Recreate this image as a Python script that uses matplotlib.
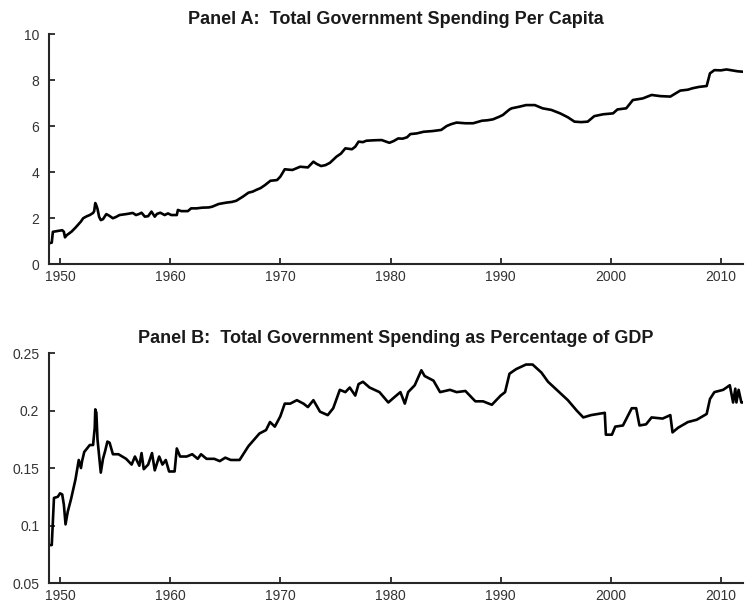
import matplotlib
matplotlib.use("Agg")
import matplotlib.pyplot as plt
from matplotlib.ticker import FuncFormatter

plt.rcParams['font.family'] = ['Liberation Sans', 'DejaVu Sans']

# Panel A: spending per capita
years_a = [1949.0, 1949.25, 1949.35, 1949.6, 1950.0, 1950.2, 1950.35, 1950.45, 1950.6, 1951.05,
           1951.4, 1951.7, 1951.9, 1952.1, 1952.4, 1952.7, 1953.0, 1953.1, 1953.2, 1953.3,
           1953.4, 1953.55, 1953.7, 1953.9, 1954.2, 1954.4, 1954.8, 1955.1, 1955.4, 1956.0,
           1956.6, 1956.9, 1957.2, 1957.4, 1957.7, 1958.0, 1958.3, 1958.6, 1958.8, 1959.1,
           1959.5, 1959.8, 1960.1, 1960.6, 1960.7, 1961.0, 1961.6, 1961.9, 1962.4, 1962.9,
           1963.5, 1963.8, 1964.4, 1965.1, 1965.6, 1966.0, 1966.6, 1967.1, 1967.5, 1967.8,
           1968.2, 1968.6, 1969.1, 1969.7, 1970.0, 1970.4, 1970.8, 1971.1, 1971.8, 1972.5,
           1973.0, 1973.3, 1973.7, 1974.1, 1974.5, 1975.1, 1975.5, 1975.9, 1976.5, 1976.8,
           1977.1, 1977.5, 1977.8, 1978.5, 1979.2, 1979.6, 1979.9, 1980.3, 1980.7, 1981.1,
           1981.5, 1981.8, 1982.4, 1983.0, 1983.8, 1984.6, 1985.1, 1985.5, 1986.0, 1986.8,
           1987.5, 1988.3, 1988.8, 1989.3, 1989.9, 1990.2, 1990.8, 1991.0, 1991.7, 1992.3,
           1993.1, 1993.8, 1994.6, 1995.4, 1996.1, 1996.7, 1997.3, 1997.9, 1998.5, 1999.3,
           2000.2, 2000.6, 2001.4, 2002.0, 2002.9, 2003.7, 2004.5, 2005.4, 2006.3, 2007.0,
           2007.4, 2008.0, 2008.7, 2009.0, 2009.4, 2010.0, 2010.5, 2011.1, 2011.5, 2012.0]
per_capita = [0.90, 0.93, 1.40, 1.42, 1.45, 1.47, 1.40, 1.16, 1.25, 1.41,
              1.58, 1.74, 1.85, 1.99, 2.07, 2.13, 2.22, 2.30, 2.65, 2.55,
              2.40, 2.05, 1.91, 1.95, 2.17, 2.12, 1.99, 2.05, 2.13, 2.17,
              2.22, 2.13, 2.18, 2.23, 2.06, 2.08, 2.28, 2.06, 2.18, 2.23,
              2.13, 2.20, 2.13, 2.13, 2.35, 2.30, 2.30, 2.42, 2.42, 2.45,
              2.46, 2.49, 2.61, 2.67, 2.70, 2.75, 2.93, 3.10, 3.15, 3.22,
              3.30, 3.43, 3.62, 3.65, 3.80, 4.12, 4.10, 4.09, 4.23, 4.20,
              4.45, 4.35, 4.26, 4.30, 4.40, 4.67, 4.80, 5.03, 4.99, 5.10,
              5.32, 5.30, 5.36, 5.38, 5.39, 5.32, 5.27, 5.35, 5.46, 5.45,
              5.51, 5.65, 5.68, 5.75, 5.78, 5.83, 6.00, 6.08, 6.15, 6.12,
              6.12, 6.23, 6.25, 6.29, 6.41, 6.48, 6.72, 6.77, 6.84, 6.91,
              6.91, 6.77, 6.70, 6.55, 6.38, 6.19, 6.17, 6.19, 6.43, 6.51,
              6.55, 6.72, 6.77, 7.13, 7.20, 7.35, 7.30, 7.28, 7.54, 7.58,
              7.64, 7.70, 7.74, 8.29, 8.43, 8.42, 8.46, 8.41, 8.38, 8.36]

# Panel B: spending as share of GDP
years_b = [1949.0, 1949.25, 1949.35, 1949.45, 1949.8, 1950.0, 1950.2, 1950.35, 1950.5, 1950.7,
           1951.0, 1951.4, 1951.7, 1951.9, 1952.0, 1952.2, 1952.7, 1953.0, 1953.15, 1953.2,
           1953.3, 1953.4, 1953.55, 1953.7, 1953.9, 1954.1, 1954.3, 1954.5, 1954.8, 1955.3,
           1956.0, 1956.5, 1956.8, 1957.2, 1957.4, 1957.6, 1958.0, 1958.35, 1958.6, 1959.0,
           1959.3, 1959.6, 1959.9, 1960.4, 1960.6, 1960.9, 1961.5, 1962.0, 1962.5, 1962.8,
           1963.3, 1964.0, 1964.5, 1965.0, 1965.5, 1966.3, 1967.1, 1968.1, 1968.7, 1969.06,
           1969.5, 1970.0, 1970.4, 1970.9, 1971.5, 1972.1, 1972.5, 1973.0, 1973.6, 1974.3,
           1974.8, 1975.4, 1975.9, 1976.3, 1976.8, 1977.1, 1977.5, 1978.1, 1979.0, 1979.8,
           1980.4, 1980.9, 1981.3, 1981.6, 1982.2, 1982.8, 1983.1, 1983.9, 1984.5, 1985.4,
           1986.0, 1986.8, 1987.7, 1988.4, 1989.2, 1989.6, 1990.0, 1990.4, 1990.8, 1991.4,
           1992.3, 1992.9, 1993.7, 1994.3, 1995.2, 1996.1, 1996.9, 1997.5, 1998.2, 1999.45,
           1999.55, 2000.1, 2000.4, 2001.1, 2001.9, 2002.3, 2002.6, 2003.2, 2003.7, 2004.7,
           2005.4, 2005.6, 2006.1, 2007.0, 2007.8, 2008.7, 2009.0, 2009.4, 2010.2, 2010.8,
           2011.1, 2011.3, 2011.4, 2011.6, 2011.85, 2012.0]
pct_gdp = [0.083, 0.083, 0.103, 0.124, 0.125, 0.128, 0.127, 0.118, 0.101, 0.112,
           0.123, 0.140, 0.157, 0.150, 0.156, 0.164, 0.170, 0.170, 0.185, 0.201,
           0.198, 0.175, 0.160, 0.146, 0.158, 0.165, 0.173, 0.172, 0.162, 0.162,
           0.158, 0.153, 0.160, 0.152, 0.163, 0.149, 0.153, 0.163, 0.148, 0.160,
           0.153, 0.157, 0.147, 0.147, 0.167, 0.160, 0.160, 0.162, 0.158, 0.162,
           0.158, 0.158, 0.156, 0.159, 0.157, 0.157, 0.169, 0.180, 0.183, 0.190,
           0.186, 0.195, 0.206, 0.206, 0.209, 0.206, 0.203, 0.209, 0.199, 0.196,
           0.202, 0.218, 0.216, 0.220, 0.213, 0.223, 0.225, 0.220, 0.216, 0.207,
           0.212, 0.216, 0.206, 0.216, 0.222, 0.235, 0.230, 0.226, 0.216, 0.218,
           0.216, 0.217, 0.208, 0.208, 0.205, 0.209, 0.213, 0.216, 0.232, 0.236,
           0.240, 0.240, 0.233, 0.225, 0.217, 0.209, 0.200, 0.194, 0.196, 0.198,
           0.179, 0.179, 0.186, 0.187, 0.202, 0.202, 0.187, 0.188, 0.194, 0.193,
           0.196, 0.181, 0.185, 0.190, 0.192, 0.197, 0.210, 0.216, 0.218, 0.222,
           0.207, 0.219, 0.207, 0.218, 0.207, 0.207]

x_ticks = [1950, 1960, 1970, 1980, 1990, 2000, 2010]

fig = plt.figure(figsize=(7.46, 6.13), dpi=100)
ax_a = fig.add_axes([0.0657, 0.5693, 0.9303, 0.3752])
ax_b = fig.add_axes([0.0657, 0.0489, 0.9303, 0.3752])


def style_axes(ax):
    for side in ['top', 'right']:
        ax.spines[side].set_visible(False)
    for side in ['left', 'bottom']:
        ax.spines[side].set_linewidth(1.5)
        ax.spines[side].set_color('#262626')
    ax.tick_params(direction='in', length=4.5, width=1.3, labelsize=10,
                   colors='#262626', labelcolor='#333333')
    ax.tick_params(axis='x', pad=4)
    ax.tick_params(axis='y', pad=7)
    ax.set_xlim(1949, 2012)
    ax.set_xticks(x_ticks)


ax_a.plot(years_a, per_capita, color='black', lw=1.9)
style_axes(ax_a)
ax_a.set_ylim(0, 10)
ax_a.set_yticks([0, 2, 4, 6, 8, 10])
ax_a.set_title('Panel A:  Total Government Spending Per Capita',
               fontsize=13, fontweight='bold', pad=7, color='#1a1a1a')

ax_b.plot(years_b, pct_gdp, color='black', lw=1.9)
style_axes(ax_b)
ax_b.set_ylim(0.05, 0.25)
ax_b.set_yticks([0.05, 0.1, 0.15, 0.2, 0.25])
ax_b.yaxis.set_major_formatter(FuncFormatter(lambda v, p: '%g' % v))
ax_b.set_title('Panel B:  Total Government Spending as Percentage of GDP',
               fontsize=13, fontweight='bold', pad=7, color='#1a1a1a')

plt.savefig('out.png', dpi=100)
plt.close(fig)
